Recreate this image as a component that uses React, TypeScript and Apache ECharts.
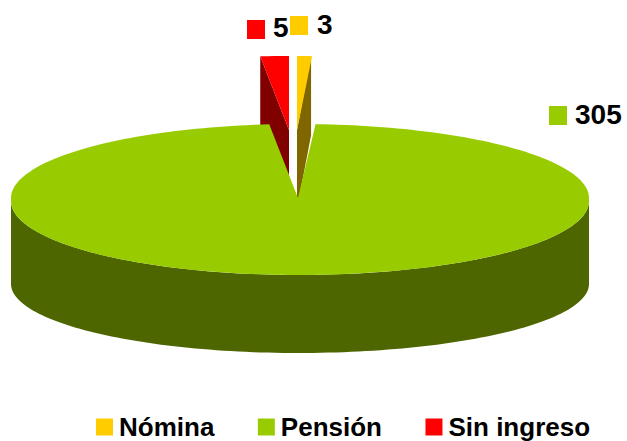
import React, { useEffect, useRef } from "react";
import * as echarts from "echarts";

const categories = ["Nómina", "Pensión", "Sin ingreso"];
const values = [3, 305, 5];
const topColors = ["#ffcc00", "#99cc00", "#ff0000"];
const wallColors = ["#806600", "#4d6600", "#800000"];

// geometry of the tilted pie, not data
const CX = 298, CY = 198, RXL = 287, RXR = 291, RYT = 74, RYB = 74, CY_LOW = 201;
const WALL_CY = 284, WALL_RY = 69, DEPTH = 79;
const explode = [
  { x: -1, y: -68, sx: 0.86 },
  { x: 0, y: 0, sx: 1 },
  { x: -9, y: -68, sx: 1 },
];
const labelBox = [
  { sx: 290, sy: 16, tx: 317, ty: 10.5 },
  { sx: 549, sy: 106, tx: 575, ty: 100 },
  { sx: 247, sy: 20, tx: 273, ty: 13.5 },
];

const total = values.reduce((a, b) => a + b, 0);
const point = (t: number, dx: number, dy: number, sx = 1) => {
  const s = Math.sin(t), c = Math.cos(t);
  const x = CX + dx + (s >= 0 ? RXR : RXL) * s * sx;
  const y = c >= 0 ? CY + dy - RYT * c : CY_LOW + dy - RYB * c;
  return [x, y];
};
const wallPoint = (t: number) => {
  const s = Math.sin(t), c = Math.cos(t);
  return [CX + (s >= 0 ? RXR : RXL) * s, WALL_CY - WALL_RY * c];
};
const steps = (a: number, b: number) => {
  const n = Math.max(2, Math.ceil((b - a) / (Math.PI / 120)));
  const out: number[] = [];
  for (let i = 0; i <= n; i++) out.push(a + ((b - a) * i) / n);
  return out;
};

const makeSeries = (idx: number) => {
  const before = values.slice(0, idx).reduce((a, b) => a + b, 0);
  const a = (before / total) * Math.PI * 2;
  const b = ((before + values[idx]) / total) * Math.PI * 2;
  return {
    type: "custom",
    name: categories[idx],
    coordinateSystem: "none",
    z: idx === 1 ? 3 : 2,
    itemStyle: { color: topColors[idx] },
    data: [values[idx]],
    renderItem: (_p: any, api: any) => {
      const v = api.value(0);
      const { x: dx, y: dy, sx } = explode[idx];
      const apex = [CX + dx, CY + dy];
      const children: any[] = [];
      const wall = { fill: wallColors[idx] };
      if (idx === 1) {
        const ts = steps(Math.max(a, Math.PI / 2), Math.min(b, (Math.PI * 3) / 2));
        const up = ts.map((t) => point(t, dx, dy));
        const down = ts.map(wallPoint).reverse();
        children.push({ type: "polygon", shape: { points: [...up, ...down] }, style: wall });
      } else {
        const mid = (a + b) / 2;
        const edge = point(mid < Math.PI ? b : a, dx, dy, sx);
        const ex = edge[0] + (mid < Math.PI ? -1 : 0);
        children.push({
          type: "polygon",
          shape: { points: [apex, [ex, edge[1]], [ex, edge[1] + DEPTH], [apex[0], apex[1] + DEPTH]] },
          style: wall,
        });
      }
      children.push({
        type: "polygon",
        shape: { points: [apex, ...steps(a, b).map((t) => point(t, dx, dy, sx))] },
        style: { fill: topColors[idx] },
      });
      const box = labelBox[idx];
      children.push({
        type: "rect",
        shape: { x: box.sx, y: box.sy, width: 18, height: 19 },
        style: { fill: topColors[idx] },
      });
      children.push({
        type: "text",
        x: box.tx,
        y: box.ty,
        style: {
          text: String(v),
          fill: "#000",
          font: 'bold 28px "Liberation Sans", Arial, sans-serif',
        },
      });
      return { type: "group", children };
    },
  };
};

export default function App() {
  const ref = useRef<HTMLDivElement>(null);
  useEffect(() => {
    document.body.style.margin = "0";
    const chart = echarts.init(ref.current!, null, { renderer: "svg" });
    chart.setOption({
      animation: false,
      backgroundColor: "#fff",
      legend: {
        data: categories,
        left: 96,
        top: 414,
        padding: 0,
        itemWidth: 17,
        itemHeight: 17,
        itemGap: 43.5,
        icon: "rect",
        selectedMode: false,
        textStyle: {
          color: "#000",
          fontFamily: '"Liberation Sans", Arial, sans-serif',
          fontWeight: "bold",
          fontSize: 26,
          padding: [0, 0, 0, 1],
        },
      },
      series: categories.map((_, i) => makeSeries(i)),
    });
    return () => chart.dispose();
  }, []);
  return <div ref={ref} style={{ width: 627, height: 441 }} />;
}
